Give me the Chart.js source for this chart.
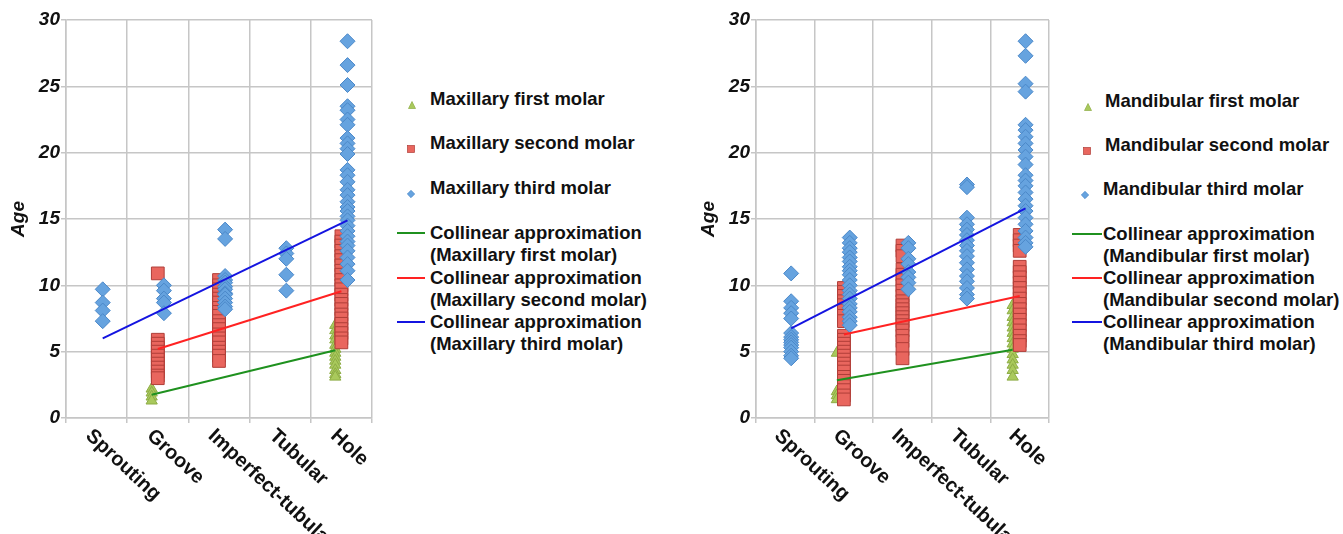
<!DOCTYPE html>
<html>
<head>
<meta charset="utf-8">
<script src="https://cdn.jsdelivr.net/npm/chart.js@4.4.0/dist/chart.umd.min.js"></script>
<style>
  body { margin: 0; background: #fff; font-family: "Liberation Sans", Arial, sans-serif; }
  #page { position: relative; width: 1343px; height: 534px; overflow: hidden; }
  canvas { position: absolute; top: 0; }
  .lg { position: absolute; font-weight: bold; font-size: 18.5px; color: #111; line-height: 22px; white-space: nowrap; }
  .lgMark { position: absolute; }
  .lgLine { position: absolute; height: 2px; }
</style>
</head>
<body>
<div id="page">
  <canvas id="maxChart" width="390" height="534" style="left:0px"></canvas>
  <canvas id="manChart" width="377" height="534" style="left:690px"></canvas>
</div>
<script>
// Stages of root development (x categories)
const stages = ['Sprouting', 'Groove', 'Imperfect-tubular', 'Tubular', 'Hole'];

// Maxillary molars: ages per stage
const maxFirstAges = [[], [2.2, 1.9, 1.6, 1.3], [], [], [7.0, 6.6, 6.2, 5.9, 5.5, 5.2, 4.9, 4.6, 4.3, 4.0, 3.6, 3.3, 3.1]];
const maxSecondAges = [[], [10.9, 5.9, 5.6, 5.3, 5.0, 4.7, 4.4, 4.1, 3.8, 3.5, 3.2, 3.0],
  [10.4, 10.0, 9.7, 9.3, 9.0, 8.7, 8.3, 8.0, 7.7, 7.3, 7.0, 6.7, 6.3, 6.0, 5.7, 5.3, 5.0, 4.7, 4.3], [],
  [13.7, 13.3, 13.0, 12.6, 12.2, 11.9, 11.5, 11.1, 10.8, 10.4, 10.0, 9.7, 9.3, 8.9, 8.6, 8.2, 7.8, 7.5, 7.1, 6.7, 6.4, 6.0, 5.7]];
const maxThirdAges = [[9.7, 8.7, 8.1, 7.3], [10.0, 9.6, 9.0, 8.7, 7.9],
  [14.2, 13.5, 10.7, 10.4, 10.2, 9.9, 9.7, 9.4, 9.3, 9.0, 8.7, 8.4, 8.2], [12.8, 12.4, 12.0, 10.8, 9.6],
  [28.4, 26.6, 25.1, 23.5, 23.2, 22.5, 22.1, 21.1, 20.7, 20.3, 19.9, 18.7, 18.3, 17.8, 17.2, 16.8, 16.3, 15.9,
   15.6, 15.2, 14.9, 14.5, 14.1, 13.7, 13.3, 13.0, 12.6, 12.1, 11.6, 11.1, 10.4]];
// collinear approximations: [stage, age] at both ends
const maxFirstFit = [[1, 1.75], [4, 5.1]];
const maxSecondFit = [[1, 5.2], [4, 9.55]];
const maxThirdFit = [[0, 6.0], [4, 14.9]];

// Mandibular molars
const manFirstAges = [[], [4.9, 2.0, 1.7, 1.4], [], [], [8.5, 8.1, 7.6, 7.2, 6.8, 6.4, 6.0, 5.6, 5.2, 4.8, 4.4, 4.0, 3.6, 3.1]];
const manSecondAges = [[],
  [9.8, 9.5, 9.2, 8.8, 8.5, 8.1, 7.7, 7.3, 6.2, 5.9, 5.6, 5.3, 5.0, 4.7, 4.4, 4.1, 3.8, 3.5, 3.1, 2.8, 2.4, 2.1, 1.7, 1.4],
  [13.0, 12.6, 12.2, 11.2, 10.8, 10.4, 10.0, 9.6, 9.2, 8.8, 8.5, 8.2, 7.9, 7.6, 7.3, 7.0, 6.6, 6.2, 5.8, 5.2, 4.5], [],
  [13.8, 13.4, 13.0, 12.6, 11.4, 11.0, 10.6, 10.2, 9.8, 9.4, 9.0, 8.6, 8.2, 7.8, 7.4, 7.0, 6.6, 6.2, 5.8, 5.5]];
const manThirdAges = [[10.9, 8.8, 8.3, 7.9, 7.5, 6.4, 6.1, 5.9, 5.7, 5.5, 5.3, 5.0, 4.7, 4.5],
  [13.6, 13.2, 12.8, 12.5, 12.1, 11.8, 11.4, 11.1, 10.8, 10.4, 10.0, 9.6, 9.3, 9.0, 8.6, 8.3, 8.0, 7.6, 7.3, 7.0],
  [13.2, 12.8, 12.0, 11.6, 11.0, 10.6, 10.2, 9.7],
  [17.6, 17.4, 15.1, 14.6, 14.2, 13.8, 13.4, 13.0, 12.6, 12.2, 11.7, 11.2, 10.7, 10.3, 9.8, 9.3, 9.0],
  [28.4, 27.3, 25.2, 24.6, 22.1, 21.7, 21.2, 20.7, 20.2, 19.7, 19.1, 18.3, 17.9, 17.5, 17.0, 16.5, 16.0, 15.6,
   15.1, 14.6, 14.1, 13.6, 13.2, 12.9]];
const manFirstFit = [[1, 2.85], [4, 5.15]];
const manSecondFit = [[1, 6.3], [4, 9.2]];
const manThirdFit = [[0, 6.75], [4, 15.8]];

const maxNames = ['Maxillary first molar', 'Maxillary second molar', 'Maxillary third molar'];
const manNames = ['Mandibular first molar', 'Mandibular second molar', 'Mandibular third molar'];

// styles
const FONT = '"Liberation Sans", Arial, sans-serif';
const pointStyles = [
  { shape: 'triangle', fill: '#a9c95c', border: '#8dac45', radius: 6.5 },
  { shape: 'rect', fill: '#e9665e', border: '#b03e38', radius: 9 },
  { shape: 'rectRot', fill: '#66a3df', border: '#4b88c9', radius: 7.5 }
];
const lineColors = ['#1f911f', '#ff2222', '#1414e0'];
const GRID = '#c6c6c6';

// x position inside a stage column
function stageX(stage, offset) {
    return stage + 0.5 + offset;
}

// draw rotated stage names under the x axis
const stageLabels = {
    id: 'stageLabels',
    afterDraw(chart) {
        const ctx = chart.ctx;
        const xs = chart.scales.x;
        ctx.save();
        ctx.font = 'bold 20px ' + FONT;
        ctx.fillStyle = '#111';
        ctx.textAlign = 'left';
        ctx.textBaseline = 'middle';
        stages.forEach((name, i) => {
            const px = xs.getPixelForValue(i + 0.5) - 8;
            const py = chart.chartArea.bottom + 15;
            ctx.save();
            ctx.translate(px, py);
            ctx.rotate(43 * Math.PI / 180);
            ctx.fillText(name, 0, 0);
            ctx.restore();
        });
        ctx.restore();
    }
};

function buildChart(canvasId, ages, fits, names, offsets) {
    const datasets = [];
    // fitted lines on top
    fits.forEach((fit, k) => {
        datasets.push({
            type: 'line',
            label: 'Collinear approximation (' + names[k] + ')',
            data: fit.map(p => ({ x: stageX(p[0], offsets[k]), y: p[1] })),
            borderColor: lineColors[k],
            borderWidth: 2,
            pointRadius: 0,
            fill: false,
            order: 0
        });
    });
    ages.forEach((series, k) => {
        const pts = [];
        series.forEach((vals, stage) => {
            vals.forEach(v => pts.push({ x: stageX(stage, offsets[k]), y: v }));
        });
        const st = pointStyles[k];
        datasets.push({
            type: 'scatter',
            label: names[k],
            data: pts,
            pointStyle: st.shape,
            pointRadius: st.radius,
            pointBackgroundColor: st.fill,
            pointBorderColor: st.border,
            pointBorderWidth: 1,
            order: 3 - k
        });
    });

    return new Chart(document.getElementById(canvasId), {
        type: 'scatter',
        data: { datasets: datasets },
        options: {
            responsive: false,
            animation: false,
            layout: { padding: { top: 20, right: 18, bottom: 0, left: 0 } },
            plugins: { legend: { display: false }, tooltip: { enabled: false } },
            scales: {
                x: {
                    type: 'linear',
                    min: 0,
                    max: 5,
                    ticks: { stepSize: 1, display: false },
                    grid: { color: GRID, lineWidth: 1.5, tickLength: 5 },
                    border: { color: GRID, width: 1.5 },
                    afterFit: s => { s.height = 116; }
                },
                y: {
                    min: 0,
                    max: 30,
                    ticks: {
                        stepSize: 5,
                        color: '#111',
                        padding: 1,
                        font: { family: FONT, size: 19, weight: 'bold', style: 'italic' }
                    },
                    grid: { color: GRID, lineWidth: 1.5, tickLength: 5 },
                    border: { color: GRID, width: 1.5 },
                    title: {
                        display: true,
                        text: 'Age',
                        color: '#111',
                        padding: { top: 7, bottom: 0 },
                        font: { family: FONT, size: 19, weight: 'bold', style: 'italic' }
                    },
                    afterFit: s => { s.width = 66; }
                }
            }
        },
        plugins: [stageLabels]
    });
}

// html legend next to each chart
function markerSvg(k) {
    const st = pointStyles[k];
    let shape;
    if (k === 0) shape = '<polygon points="4,0.5 7.5,7.5 0.5,7.5" fill="' + st.fill + '" stroke="' + st.border + '" stroke-width="0.7"/>';
    else if (k === 1) shape = '<rect x="0.5" y="0.5" width="7" height="7" fill="' + st.fill + '" stroke="' + st.border + '" stroke-width="0.7"/>';
    else shape = '<polygon points="4,0.3 7.7,4 4,7.7 0.3,4" fill="' + st.fill + '" stroke="' + st.border + '" stroke-width="0.7"/>';
    return '<svg width="8" height="8" viewBox="0 0 8 8">' + shape + '</svg>';
}

function buildLegend(names, cfg) {
    const page = document.getElementById('page');
    names.forEach((name, k) => {
        const m = document.createElement('div');
        m.className = 'lgMark';
        m.style.left = (cfg.markX[k] - 4) + 'px';
        m.style.top = (cfg.pointY[k] - 4) + 'px';
        m.innerHTML = markerSvg(k);
        page.appendChild(m);

        const t = document.createElement('div');
        t.className = 'lg';
        t.style.left = cfg.textX[k] + 'px';
        t.style.top = (cfg.pointY[k] - 11) + 'px';
        t.textContent = name;
        page.appendChild(t);
    });
    names.forEach((name, k) => {
        const l = document.createElement('div');
        l.className = 'lgLine';
        l.style.left = cfg.lineX0 + 'px';
        l.style.width = (cfg.lineX1 - cfg.lineX0) + 'px';
        l.style.top = (cfg.lineY[k] - 1) + 'px';
        l.style.background = lineColors[k];
        page.appendChild(l);

        const t = document.createElement('div');
        t.className = 'lg';
        t.style.left = cfg.lineTextX + 'px';
        t.style.top = (cfg.lineY[k] - 11) + 'px';
        t.innerHTML = 'Collinear approximation<br>(' + name + ')';
        page.appendChild(t);
    });
}

buildChart('maxChart', [maxFirstAges, maxSecondAges, maxThirdAges],
    [maxFirstFit, maxSecondFit, maxThirdFit], maxNames, [-0.1, 0, 0.1]);
buildChart('manChart', [manFirstAges, manSecondAges, manThirdAges],
    [manFirstFit, manSecondFit, manThirdFit], manNames, [-0.12, 0, 0.1]);

buildLegend(maxNames, {
    markX: [412, 411, 411], pointY: [99, 143, 188], textX: [430, 430, 430],
    lineX0: 397, lineX1: 425, lineY: [233, 278, 322], lineTextX: 430
});
buildLegend(manNames, {
    markX: [1088, 1087, 1085], pointY: [101, 145, 189], textX: [1105, 1105, 1103],
    lineX0: 1072, lineX1: 1102, lineY: [234, 278, 322], lineTextX: 1103
});
</script>
</body>
</html>
